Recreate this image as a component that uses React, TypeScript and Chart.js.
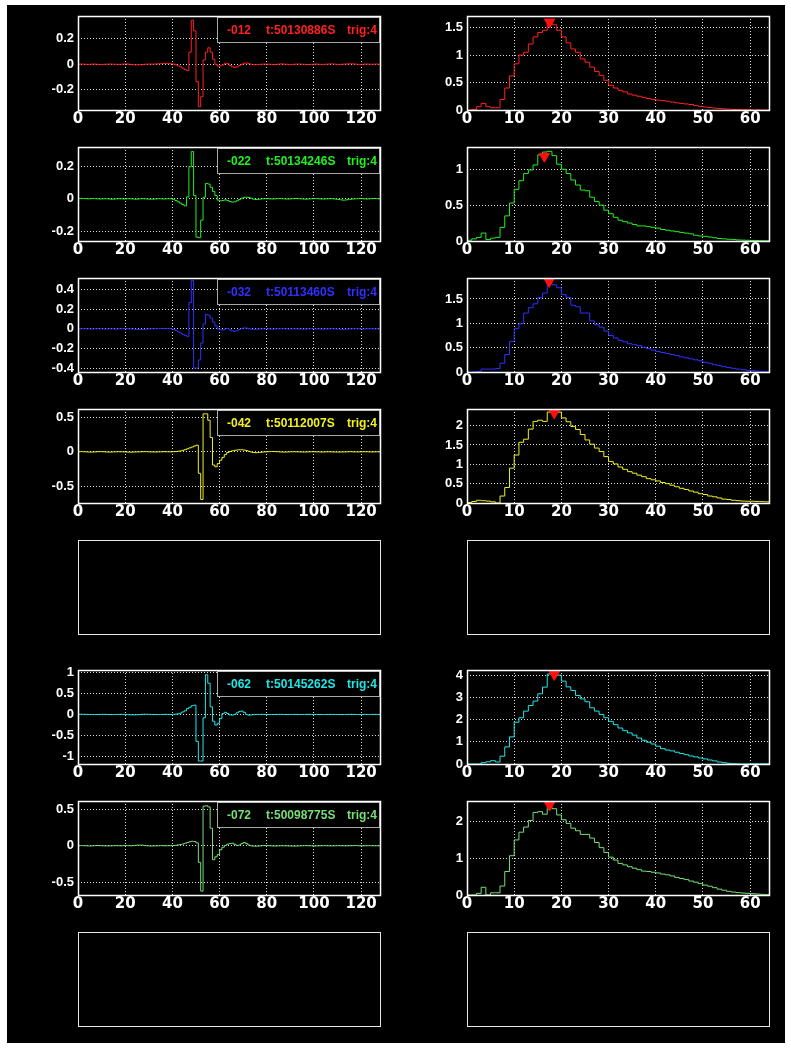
import React, { useEffect, useRef } from 'react';
import { Chart, registerables } from 'chart.js';

Chart.register(...registerables);

// ---------------- data ----------------
const channelLabels = ['-012', '-022', '-032', '-042', '-062', '-072'];
const timeLabels = ['t:50130886S', 't:50134246S', 't:50113460S', 't:50112007S', 't:50145262S', 't:50098775S'];
const trigLabels = ['trig:4', 'trig:4', 'trig:4', 'trig:4', 'trig:4', 'trig:4'];
const seriesColors = ['#ff2020', '#22ee22', '#3030ff', '#f0f020', '#22e5e5', '#77dd77'];

const waveXTicks = [0, 20, 40, 60, 80, 100, 120];
const histXTicks = [0, 10, 20, 30, 40, 50, 60];
const waveXMax = 128;
const histXMax = 64;

const waveYMin = [-0.36, -0.257, -0.44, -0.74, -1.17, -0.67];
const waveYMax = [0.38, 0.316, 0.52, 0.62, 1.05, 0.61];
const waveYTicks = [
  [-0.2, 0, 0.2],
  [-0.2, 0, 0.2],
  [-0.4, -0.2, 0, 0.2, 0.4],
  [-0.5, 0, 0.5],
  [-1, -0.5, 0, 0.5, 1],
  [-0.5, 0, 0.5],
];
const histYMax = [1.71, 1.31, 1.93, 2.43, 4.23, 2.56];
const histYTicks = [
  [0, 0.5, 1, 1.5],
  [0, 0.5, 1],
  [0, 0.5, 1, 1.5],
  [0, 0.5, 1, 1.5, 2],
  [0, 1, 2, 3, 4],
  [0, 1, 2],
];
const peakX = [17.5, 16.4, 17.4, 18.5, 18.5, 17.5];
const peakY = [1.6, 1.18, 1.86, 2.33, 4.03, 2.45];

const wave012 = [
  0, 0.002, 0.001, 0, -0.001, 0, 0.002, 0.001, 0, -0.002, -0.001, 0, 0.001, 0.002, 0.001, 0,
  0, -0.001, 0, 0.002, 0.003, 0.001, -0.002, -0.004, -0.005, -0.004, -0.003, -0.002, 0, 0.001, 0.002, 0.001,
  0.002, 0.003, 0.004, 0.005, 0.006, 0.006, 0.005, 0.004, 0.002, -0.004, -0.012, -0.02, -0.03, -0.042, -0.05, 0.095,
  0.347, 0.263, -0.137, -0.334, -0.255, 0.034, 0.095, 0.13, 0.095, 0.04, 0.0, -0.015, -0.012, -0.005, 0.008, 0.005,
  -0.01, -0.02, -0.025, -0.02, -0.01, 0.0, 0.008, 0.01, 0.005, 0.0, -0.003, -0.004, -0.002, 0, 0.001, 0.002,
  0.001, 0, -0.001, -0.002, 0, 0.002, 0.003, 0.001, 0, -0.001, -0.002, 0, 0.001, 0.002, 0.001, 0,
  -0.001, -0.002, -0.001, 0, 0.002, 0.001, 0, -0.001, 0, 0.001, 0.002, 0.003, 0.002, 0, -0.001, 0,
  0.001, 0.002, 0.003, 0.004, 0.003, 0.002, 0, -0.001, 0, 0.001, 0.002, 0.001, 0, 0.001, 0.002, 0.001,
];
const wave022 = [
  0.002, 0.003, 0.002, 0.001, 0, 0.001, 0.002, 0.001, 0, -0.001, 0, 0.001, 0, -0.001, -0.002, -0.001,
  0, 0.001, 0, -0.001, 0, 0.001, 0, -0.001, -0.002, -0.001, 0, 0.001, 0, -0.001, -0.002, -0.002,
  -0.001, 0, 0.001, 0, -0.001, 0, 0.001, 0, -0.003, -0.01, -0.018, -0.026, -0.035, -0.043, 0.012, 0.196,
  0.288, 0.02, -0.233, -0.237, -0.13, 0.01, 0.094, 0.09, 0.07, 0.045, 0.02, -0.008, -0.012, -0.01, -0.006, -0.01,
  -0.016, -0.02, -0.018, -0.012, -0.004, 0.004, 0.009, 0.01, 0.008, 0.003, -0.002, -0.004, -0.003, -0.001, 0, 0.001,
  0.001, 0, -0.001, 0, 0.001, 0.002, 0.001, 0, -0.001, -0.001, 0, 0.001, 0.002, 0.001, 0, -0.001,
  -0.002, -0.001, 0, 0.001, 0.002, 0.001, 0, -0.001, -0.001, 0, 0.001, 0.001, 0, -0.002, -0.004, -0.006,
  -0.008, -0.007, -0.005, -0.003, -0.001, 0, 0.001, 0.002, 0.001, 0, -0.001, 0, 0.001, 0.002, 0.001, 0,
];
const wave032 = [
  0, 0.001, 0.002, 0.001, 0, -0.001, 0, 0.001, 0.002, 0.001, 0, -0.001, 0, 0.001, 0, -0.001,
  0, 0.001, 0.002, 0.002, 0.001, 0, -0.001, -0.002, -0.003, -0.004, -0.005, -0.005, -0.004, -0.002, 0, 0.001,
  0.002, 0.003, 0.004, 0.005, 0.005, 0.004, 0.003, 0.001, -0.005, -0.015, -0.028, -0.042, -0.055, -0.065, -0.076, 0.269,
  0.493, -0.4, -0.4, -0.317, -0.145, 0.05, 0.148, 0.14, 0.11, 0.07, 0.03, 0.0, -0.01, -0.01, 0.0, 0.005,
  -0.01, -0.02, -0.025, -0.015, -0.005, 0.005, 0.01, 0.008, 0.002, -0.003, -0.004, -0.003, -0.001, 0, 0.001, 0.001,
  0, -0.001, -0.002, -0.001, 0, 0.001, 0.002, 0.001, 0, -0.001, 0, 0.001, 0.001, 0, -0.001, -0.002,
  -0.001, 0, 0.001, 0.002, 0.001, 0, -0.001, -0.002, -0.001, 0, 0.001, 0.002, 0.001, 0, -0.002, -0.003,
  -0.004, -0.003, -0.002, 0, 0.001, 0.002, 0.001, 0, -0.001, 0, 0.001, 0.002, 0.001, 0, 0.001, 0,
];
const wave042 = [
  0.002, 0.003, 0.002, 0, -0.002, -0.003, -0.002, 0, 0.002, 0.003, 0.002, 0, -0.002, -0.003, -0.002, 0,
  0.001, 0.002, 0.001, 0, -0.002, -0.003, -0.004, -0.003, -0.001, 0, 0.001, 0.002, 0.003, 0.002, 0, -0.001,
  -0.002, -0.001, 0, 0.001, 0.002, 0.002, 0.001, 0, 0.002, 0.004, 0.008, 0.014, 0.022, 0.032, 0.045, 0.058,
  0.07, 0.085, 0.096, -0.31, -0.69, 0.55, 0.55, 0.457, 0.207, -0.19, -0.216, -0.17, -0.12, -0.08, -0.04, -0.01,
  0.005, 0.015, 0.022, 0.027, 0.03, 0.03, 0.026, 0.018, 0.008, -0.002, -0.01, -0.012, -0.01, -0.006, -0.002, 0,
  0.002, 0.004, 0.005, 0.004, 0.002, 0, -0.002, -0.003, -0.002, 0, 0.001, 0.002, 0.001, 0, -0.001, -0.002,
  -0.001, 0, 0.001, 0.002, 0.001, 0, -0.001, -0.002, -0.001, 0, 0.001, 0, -0.001, -0.002, -0.003, -0.002,
  -0.001, 0, 0.001, 0.002, 0.001, 0, -0.001, 0, 0.001, 0.002, 0.001, 0, -0.001, 0, 0.001, 0,
];
const wave062 = [
  0.003, 0.004, 0.003, 0.002, 0, -0.002, -0.003, -0.002, 0, 0.002, 0.003, 0.002, 0, -0.002, -0.003, -0.002,
  0, 0.002, 0.003, 0.002, 0, -0.004, -0.008, -0.01, -0.008, -0.004, 0, 0.003, 0.005, 0.004, 0.002, 0,
  -0.002, -0.003, -0.002, 0, 0.002, 0.003, 0.002, 0, 0.003, 0.008, 0.015, 0.03, 0.06, 0.087, 0.14, 0.17,
  0.206, 0.22, -0.635, -1.1, -1.1, -0.08, 0.937, 0.738, 0.18, -0.16, -0.25, -0.21, -0.1, 0.02, 0.05, 0.02,
  -0.01, -0.015, 0, 0.04, 0.07, 0.08, 0.05, 0.0, -0.015, -0.012, -0.005, 0, 0.002, 0.003, 0.002, 0,
  -0.002, -0.003, -0.002, 0, 0.002, 0.003, 0.002, 0, -0.001, 0, 0.001, 0.002, 0.001, 0, -0.001, 0,
  0.001, 0.002, 0.003, 0.002, 0.001, 0, -0.001, -0.002, -0.001, 0, 0.001, 0.002, 0.001, 0, -0.001, -0.002,
  -0.001, 0, 0.002, 0.003, 0.002, 0, -0.001, 0, 0.001, 0.002, 0.001, 0, 0.001, 0.002, 0.001, 0,
];
const wave072 = [
  0.002, 0.003, 0.002, 0, -0.002, -0.002, 0, 0.002, 0.003, 0.002, 0, -0.001, -0.002, -0.001, 0, 0.001,
  0.002, 0.001, 0, 0.002, 0.004, 0.002, 0, 0.003, 0.006, 0.009, 0.01, 0.008, 0.004, 0, -0.002, -0.002,
  -0.001, 0, 0.001, 0.002, 0.001, 0, 0.001, 0.002, 0.004, 0.007, 0.012, 0.018, 0.025, 0.035, 0.045, 0.055,
  0.062, 0.058, 0.04, -0.225, -0.617, 0.54, 0.545, 0.53, 0.24, -0.19, -0.15, -0.12, -0.054, -0.02, 0.005, 0.022,
  0.03, 0.036, 0.02, 0.005, 0.01, 0.03, 0.045, 0.03, 0.01, 0, -0.004, -0.005, -0.003, 0, 0.002, 0.003,
  0.002, 0, -0.002, -0.003, -0.002, 0, 0.001, 0, -0.001, -0.002, -0.003, -0.004, -0.003, -0.001, 0, 0.001,
  0.002, 0.001, 0, -0.001, -0.002, -0.001, 0, 0.001, 0.002, 0.001, 0, -0.001, 0, 0.001, 0.002, 0.001,
  0, -0.001, 0, 0.001, 0.002, 0.003, 0.002, 0, -0.001, 0, 0.001, 0.002, 0.001, 0, 0.001, 0,
];

const hist012 = [
  0, 0.01, 0.06, 0.12, 0.06, 0.04, 0.04, 0.19, 0.4, 0.62,
  0.84, 1.0, 1.05, 1.2, 1.33, 1.41, 1.45, 1.6, 1.55, 1.45,
  1.33, 1.22, 1.11, 1.05, 0.93, 0.87, 0.78, 0.7, 0.63, 0.54,
  0.45, 0.4, 0.36, 0.33, 0.29, 0.27, 0.25, 0.23, 0.21, 0.19,
  0.18, 0.17, 0.16, 0.145, 0.13, 0.12, 0.11, 0.1, 0.08, 0.065,
  0.055, 0.045, 0.035, 0.028, 0.02, 0.015, 0.01, 0.008, 0.006, 0.004,
  0.003, 0.002, 0.001, 0,
];
const hist022 = [
  0.01, 0.03, 0.05, 0.11, 0.02, 0.04, 0.05, 0.19, 0.35, 0.53,
  0.72, 0.84, 0.94, 0.99, 1.06, 1.2, 1.24, 1.25, 1.19, 1.07,
  1.0, 0.94, 0.85, 0.78, 0.71, 0.7, 0.61, 0.55, 0.5, 0.43,
  0.38, 0.33, 0.29, 0.27, 0.25, 0.23, 0.21, 0.21, 0.2, 0.19,
  0.18, 0.16, 0.15, 0.14, 0.13, 0.12, 0.11, 0.1, 0.08, 0.07,
  0.065, 0.055, 0.045, 0.035, 0.03, 0.025, 0.02, 0.015, 0.012, 0.01,
  0.008, 0.006, 0.004, 0.003,
];
const hist032 = [
  0, 0, 0.01, 0.06, 0.06, 0.06, 0.07, 0.18, 0.36, 0.63,
  0.89, 0.99, 1.21, 1.32, 1.4, 1.53, 1.62, 1.81, 1.79, 1.73,
  1.59, 1.53, 1.37, 1.34, 1.21, 1.21, 1.05, 0.97, 0.92, 0.84,
  0.75, 0.7, 0.65, 0.62, 0.58, 0.56, 0.54, 0.51, 0.48, 0.45,
  0.42, 0.4, 0.38, 0.36, 0.34, 0.31, 0.29, 0.27, 0.25, 0.23,
  0.2, 0.18, 0.15, 0.13, 0.11, 0.09, 0.075, 0.06, 0.05, 0.035,
  0.027, 0.02, 0.013, 0.007,
];
const hist042 = [
  0.01, 0.04, 0.07, 0.06, 0.05, 0.03, 0.0, 0.18, 0.4, 0.9,
  1.24, 1.57, 1.65, 1.91, 2.11, 2.14, 2.11, 2.35, 2.35, 2.35,
  2.2, 2.1, 1.98, 1.9, 1.77, 1.63, 1.52, 1.42, 1.33, 1.2,
  1.07, 1.01, 0.93, 0.87, 0.81, 0.77, 0.72, 0.68, 0.63, 0.6,
  0.57, 0.53, 0.5, 0.46, 0.42, 0.38, 0.35, 0.31, 0.28, 0.24,
  0.22, 0.18, 0.16, 0.13, 0.1, 0.09, 0.07, 0.06, 0.05, 0.045,
  0.045, 0.04, 0.035, 0.03,
];
const hist062 = [
  0, 0, 0, 0.06, 0.1, 0.15, 0.09, 0.35, 0.77, 1.22,
  1.88, 2.08, 2.38, 2.63, 2.83, 3.16, 3.46, 4.05, 4.05, 4.0,
  3.73, 3.47, 3.31, 3.08, 2.93, 2.8, 2.53, 2.38, 2.23, 2.08,
  1.92, 1.77, 1.62, 1.5, 1.4, 1.3, 1.17, 1.07, 0.98, 0.9,
  0.8, 0.69, 0.63, 0.59, 0.53, 0.47, 0.42, 0.36, 0.32, 0.27,
  0.23, 0.18, 0.14, 0.09, 0.06, 0.03, 0.015, 0.005, 0, 0,
  0.01, 0.01, 0.01, 0.01,
];
const hist072 = [
  0, 0, 0.045, 0.21, 0.0, 0.06, 0.06, 0.245, 0.64, 1.07,
  1.5, 1.71, 1.85, 2.03, 2.25, 2.27, 2.2, 2.39, 2.35, 2.18,
  2.05, 1.95, 1.82, 1.75, 1.65, 1.65, 1.55, 1.43, 1.29, 1.16,
  1.03, 0.95, 0.86, 0.82, 0.77, 0.73, 0.69, 0.65, 0.64, 0.62,
  0.6, 0.57, 0.55, 0.52, 0.48, 0.45, 0.42, 0.38, 0.35, 0.31,
  0.27, 0.24, 0.2, 0.16, 0.13, 0.1, 0.08, 0.065, 0.055, 0.045,
  0.035, 0.027, 0.018, 0.01,
];

const waveSeries = [wave012, wave022, wave032, wave042, wave062, wave072];
const histSeries = [hist012, hist022, hist032, hist042, hist062, hist072];

// ---------------- layout ----------------
const ROW_TOPS = [16, 147, 278, 409, 670, 801];
const EMPTY_ROW_TOPS = [540, 932];
const WAVE_LEFT = 78;
const HIST_LEFT = 467;
const PLOT_W = 302;
const PLOT_H = 94;
const AXIS_W = 44;
const PAD_T = 10;
const PAD_R = 12;
const AXIS_H = 26;
const GRID_COLOR = 'rgba(255,255,255,0.85)';
const TICK_FONT_X = { family: 'DejaVu Sans', size: 15, weight: 'bold' as const };
const TICK_FONT_Y = { family: 'Liberation Sans', size: 13, weight: 'bold' as const };

const fmt = (v: number | string) => String(v);

type PanelProps = { kind: 'wave' | 'hist'; idx: number; left: number; top: number };

function Panel({ kind, idx, left, top }: PanelProps) {
  const ref = useRef<HTMLCanvasElement | null>(null);

  useEffect(() => {
    const canvas = ref.current;
    if (!canvas) return;
    const color = seriesColors[idx];
    const values = kind === 'wave' ? waveSeries[idx] : histSeries[idx];
    const xMax = kind === 'wave' ? waveXMax : histXMax;
    const xTicks = kind === 'wave' ? waveXTicks : histXTicks;
    const yTicks = kind === 'wave' ? waveYTicks[idx] : histYTicks[idx];
    const yMin = kind === 'wave' ? waveYMin[idx] : 0;
    const yMax = kind === 'wave' ? waveYMax[idx] : histYMax[idx];

    const pts = values.map((v, i) => ({ x: i, y: v }));
    pts.push({ x: values.length, y: values[values.length - 1] });

    const datasets: any[] = [
      {
        data: pts,
        borderColor: color,
        borderWidth: 1,
        pointRadius: 0,
        stepped: 'before',
        fill: false,
        tension: 0,
        order: 2,
      },
    ];
    if (kind === 'hist') {
      datasets.push({
        data: [{ x: peakX[idx], y: peakY[idx] }],
        showLine: false,
        pointStyle: 'triangle',
        pointRotation: 180,
        pointRadius: 6,
        pointBackgroundColor: '#ff1010',
        pointBorderColor: '#ff1010',
        pointBorderWidth: 1,
        clip: false,
        order: 1,
      });
    }

    const framePlugin = {
      id: 'frame' + kind + idx,
      afterDraw(chart: any) {
        const { ctx, chartArea: a } = chart;
        ctx.save();
        if (kind === 'wave') {
          const lx = a.left + 139;
          const ly = a.top + 1;
          const lw = a.right - lx;
          const lh = 26;
          ctx.fillStyle = '#000';
          ctx.fillRect(lx, ly, lw, lh);
          ctx.strokeStyle = '#a8a8a8';
          ctx.lineWidth = 1;
          ctx.strokeRect(lx + 0.5, ly + 0.5, lw - 1, lh - 1);
          ctx.font = 'bold 12px "Liberation Sans", Arial, sans-serif';
          ctx.fillStyle = color;
          ctx.textBaseline = 'middle';
          ctx.textAlign = 'left';
          const cy = ly + lh / 2 + 1;
          ctx.fillText(channelLabels[idx], lx + 10, cy);
          ctx.fillText(timeLabels[idx], lx + 49, cy);
          ctx.fillText(trigLabels[idx], lx + 130, cy);
        }
        ctx.strokeStyle = '#ffffff';
        ctx.lineWidth = 1.5;
        ctx.strokeRect(a.left + 0.5, a.top + 0.5, a.right - a.left, a.bottom - a.top);
        ctx.restore();
      },
    };

    const chart = new Chart(canvas, {
      type: 'line',
      data: { datasets },
      options: {
        animation: false,
        responsive: false,
        maintainAspectRatio: false,
        events: [],
        layout: { padding: { left: 0, top: PAD_T, right: PAD_R, bottom: 0 } },
        plugins: { legend: { display: false }, tooltip: { enabled: false } },
        scales: {
          x: {
            type: 'linear',
            position: 'bottom',
            min: 0,
            max: xMax,
            afterBuildTicks: (s: any) => {
              s.ticks = xTicks.map((v) => ({ value: v }));
            },
            afterFit: (s: any) => {
              s.height = AXIS_H;
              s.paddingLeft = 0;
              s.paddingRight = 0;
            },
            grid: { color: GRID_COLOR, lineWidth: 1, drawTicks: false },
            border: { display: false, dash: [1, 2] },
            ticks: {
              color: '#ffffff',
              font: TICK_FONT_X,
              padding: 0,
              maxRotation: 0,
              autoSkip: false,
              callback: fmt,
            },
          },
          y: {
            type: 'linear',
            position: 'left',
            min: yMin,
            max: yMax,
            afterBuildTicks: (s: any) => {
              s.ticks = yTicks.map((v) => ({ value: v }));
            },
            afterFit: (s: any) => {
              s.width = AXIS_W;
              s.paddingTop = 0;
              s.paddingBottom = 0;
            },
            grid: { color: GRID_COLOR, lineWidth: 1, drawTicks: false },
            border: { display: false, dash: [1, 2] },
            ticks: {
              color: '#ffffff',
              font: TICK_FONT_Y,
              padding: 4,
              autoSkip: false,
              callback: fmt,
            },
          },
        },
      } as any,
      plugins: [framePlugin],
    });
    return () => chart.destroy();
  }, [kind, idx]);

  return (
    <canvas
      ref={ref}
      width={AXIS_W + PLOT_W + PAD_R}
      height={PAD_T + PLOT_H + AXIS_H}
      style={{ position: 'absolute', left: left - AXIS_W, top: top - PAD_T }}
    />
  );
}

function EmptyBox({ left, top }: { left: number; top: number }) {
  return (
    <div
      style={{
        position: 'absolute',
        left,
        top,
        width: PLOT_W + 1,
        height: PLOT_H + 1,
        boxSizing: 'border-box',
        border: '1px solid #e6e6e6',
      }}
    />
  );
}

export default function App() {
  return (
    <div style={{ position: 'absolute', left: 0, top: 0, width: 791, height: 1048, background: '#ffffff' }}>
      <div style={{ position: 'absolute', left: 7, top: 5, width: 778, height: 1038, background: '#000000' }} />
      {ROW_TOPS.map((t, i) => (
        <React.Fragment key={i}>
          <Panel kind="wave" idx={i} left={WAVE_LEFT} top={t} />
          <Panel kind="hist" idx={i} left={HIST_LEFT} top={t} />
        </React.Fragment>
      ))}
      {EMPTY_ROW_TOPS.map((t, i) => (
        <React.Fragment key={'e' + i}>
          <EmptyBox left={WAVE_LEFT} top={t} />
          <EmptyBox left={HIST_LEFT} top={t} />
        </React.Fragment>
      ))}
    </div>
  );
}
